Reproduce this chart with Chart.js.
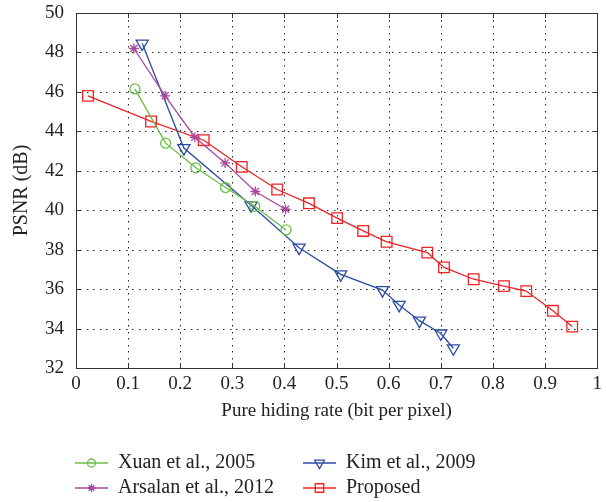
<!DOCTYPE html>
<html>
<head>
<meta charset="utf-8">
<script src="https://cdn.jsdelivr.net/npm/chart.js@4.4.1/dist/chart.umd.min.js"></script>
<style>
  body { margin: 0; background: #fff; }
  #wrap { width: 606px; height: 502px; }
</style>
</head>
<body>
<div id="wrap"><canvas id="psnr-chart" width="606" height="502"></canvas></div>
<script>
const xTitle = 'Pure hiding rate (bit per pixel)';
const yTitle = 'PSNR (dB)';

const xuanX = [0.113, 0.172, 0.230, 0.287, 0.343, 0.403];
const xuanY = [46.15, 43.4, 42.15, 41.15, 40.2, 39.0];

const arsalanX = [0.111, 0.171, 0.228, 0.286, 0.344, 0.402];
const arsalanY = [48.2, 45.8, 43.7, 42.4, 40.95, 40.05];

const kimX = [0.127, 0.207, 0.336, 0.428, 0.508, 0.588, 0.620, 0.659, 0.700, 0.724];
const kimY = [48.45, 43.15, 40.25, 38.1, 36.75, 35.95, 35.2, 34.4, 33.75, 33.0];

const proposedX = [0.023, 0.144, 0.245, 0.318, 0.386, 0.447, 0.501, 0.551, 0.596, 0.674, 0.706, 0.763, 0.821, 0.864, 0.915, 0.952];
const proposedY = [45.8, 44.5, 43.55, 42.2, 41.05, 40.35, 39.6, 38.95, 38.4, 37.85, 37.1, 36.5, 36.15, 35.9, 34.9, 34.1];

const serif = '"Liberation Serif", "DejaVu Serif", serif';

function toPoints(xs, ys) {
    return xs.map((x, i) => ({ x: x, y: ys[i] }));
}

function makeSeries(label, xs, ys, color, style, radius, rotation) {
    return {
        label: label,
        data: toPoints(xs, ys),
        borderColor: color,
        backgroundColor: 'rgba(0,0,0,0)',
        pointBorderColor: color,
        pointBackgroundColor: 'rgba(0,0,0,0)',
        pointStyle: style,
        pointRadius: radius,
        pointRotation: rotation || 0,
        pointBorderWidth: 1.3,
        borderWidth: 1.3,
        tension: 0,
        fill: false
    };
}

const datasets = [
    makeSeries('Xuan et al., 2005', xuanX, xuanY, '#6cbd45', 'circle', 5),
    makeSeries('Arsalan et al., 2012', arsalanX, arsalanY, '#a8489c', 'star', 5),
    makeSeries('Kim et al., 2009', kimX, kimY, '#2c4ca4', 'triangle', 7, 180),
    makeSeries('Proposed', proposedX, proposedY, '#ee2326', 'rect', 7.5)
];

// legend slots: [dataset index, line start x, row y]
const legendSlots = [[0, 75, 463], [2, 303, 463], [1, 75, 488], [3, 303, 488]];

const frameAndTicks = {
    id: 'frameAndTicks',
    beforeDatasetsDraw(chart) {
        const { ctx, chartArea: a, scales } = chart;
        const xs = scales.x.ticks.map(t => Math.round(scales.x.getPixelForValue(t.value)) + 0.5);
        const ys = scales.y.ticks.map(t => Math.round(scales.y.getPixelForValue(t.value)) + 0.5);
        ctx.save();
        // dotted grid
        ctx.fillStyle = '#222';
        xs.slice(1, -1).forEach(px => {
            for (let py = a.bottom - 4; py > a.top + 2; py -= 6.5) ctx.fillRect(px - 0.5, Math.round(py), 1, 1.5);
        });
        ys.slice(1, -1).forEach(py => {
            for (let px = a.left + 4; px < a.right - 2; px += 6.5) ctx.fillRect(Math.round(px), py - 0.5, 1.5, 1);
        });
        // inward ticks and frame
        ctx.strokeStyle = '#333';
        ctx.lineWidth = 1;
        ctx.beginPath();
        xs.forEach(px => {
            ctx.moveTo(px, a.bottom); ctx.lineTo(px, a.bottom - 5);
            ctx.moveTo(px, a.top); ctx.lineTo(px, a.top + 5);
        });
        ys.forEach(py => {
            ctx.moveTo(a.left, py); ctx.lineTo(a.left + 5, py);
            ctx.moveTo(a.right, py); ctx.lineTo(a.right - 5, py);
        });
        ctx.stroke();
        ctx.strokeRect(Math.round(a.left) + 0.5, Math.round(a.top) + 0.5,
            Math.round(a.right - a.left), Math.round(a.bottom - a.top));
        ctx.restore();
    }
};

const twoColumnLegend = {
    id: 'twoColumnLegend',
    afterDraw(chart) {
        const ctx = chart.ctx;
        ctx.save();
        ctx.font = '20px ' + serif;
        ctx.textBaseline = 'middle';
        legendSlots.forEach(([i, x, y]) => {
            const ds = chart.data.datasets[i];
            ctx.strokeStyle = ds.borderColor;
            ctx.lineWidth = ds.borderWidth;
            ctx.beginPath();
            ctx.moveTo(x, y); ctx.lineTo(x + 33, y);
            ctx.stroke();
            ctx.fillStyle = 'rgba(0,0,0,0)';
            Chart.helpers.drawPoint(ctx, {
                pointStyle: ds.pointStyle,
                radius: ds.pointRadius * 0.8,
                rotation: ds.pointRotation,
                borderWidth: ds.pointBorderWidth
            }, x + 16.5, y);
            ctx.fillStyle = '#222';
            ctx.fillText(ds.label, x + 43, y);
        });
        ctx.restore();
    }
};

new Chart(document.querySelector('#psnr-chart').getContext('2d'), {
    type: 'line',
    data: { datasets: datasets },
    plugins: [frameAndTicks, twoColumnLegend],
    options: {
        responsive: false,
        animation: false,
        layout: { padding: { top: 13, right: 0, left: 0, bottom: 0 } },
        plugins: {
            legend: { display: false },
            tooltip: { enabled: false }
        },
        scales: {
            x: {
                type: 'linear',
                min: 0,
                max: 1,
                afterFit: scale => {
                    scale.height = 134;
                    scale.paddingLeft = 0;
                    scale.paddingRight = 4;
                },
                ticks: {
                    stepSize: 0.1, color: '#222', padding: 5, font: { family: serif, size: 19 },
                    callback: v => String(Math.round(v * 10) / 10)
                },
                grid: { display: false, drawTicks: false, tickLength: 0 },
                border: { display: false },
                title: { display: true, text: xTitle, color: '#222', font: { family: serif, size: 19 }, padding: { top: 0, bottom: 79.6 } }
            },
            y: {
                type: 'linear',
                min: 32,
                max: 50,
                afterFit: scale => {
                    scale.width = 76;
                    scale.paddingTop = 0;
                    scale.paddingBottom = 0;
                },
                ticks: { stepSize: 2, color: '#222', padding: 12, font: { family: serif, size: 19 } },
                grid: { display: false, drawTicks: false, tickLength: 0 },
                border: { display: false },
                title: { display: true, text: yTitle, color: '#222', font: { family: serif, size: 20 }, padding: { top: 10, bottom: 0 } }
            }
        }
    }
});
</script>
</body>
</html>
